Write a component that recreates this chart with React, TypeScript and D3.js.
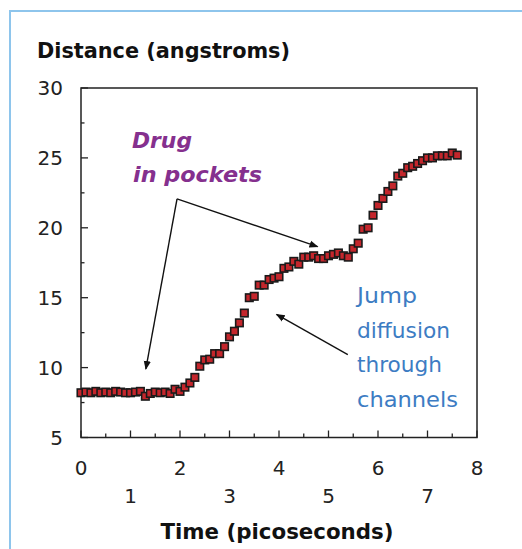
import React from "react";
import * as d3 from "d3";

const times = [
  0.0, 0.1, 0.2, 0.3, 0.4, 0.5, 0.6, 0.7, 0.8, 0.9,
  1.0, 1.1, 1.2, 1.3, 1.4, 1.5, 1.6, 1.7, 1.8, 1.9,
  2.0, 2.1, 2.2, 2.3, 2.4, 2.5, 2.6, 2.7, 2.8, 2.9,
  3.0, 3.1, 3.2, 3.3, 3.4, 3.5, 3.6, 3.7, 3.8, 3.9,
  4.0, 4.1, 4.2, 4.3, 4.4, 4.5, 4.6, 4.7, 4.8, 4.9,
  5.0, 5.1, 5.2, 5.3, 5.4, 5.5, 5.6, 5.7, 5.8, 5.9,
  6.0, 6.1, 6.2, 6.3, 6.4, 6.5, 6.6, 6.7, 6.8, 6.9,
  7.0, 7.1, 7.2, 7.3, 7.4, 7.5, 7.6,
];
const distances = [
  8.2, 8.25, 8.2, 8.3, 8.2, 8.25, 8.2, 8.3, 8.25, 8.2,
  8.2, 8.25, 8.3, 7.95, 8.15, 8.25, 8.2, 8.25, 8.15, 8.45,
  8.3, 8.6, 8.9, 9.3, 10.1, 10.55, 10.6, 11.0, 11.0, 11.5,
  12.2, 12.6, 13.2, 13.9, 15.0, 15.1, 15.9, 15.9, 16.3, 16.4,
  16.5, 17.1, 17.2, 17.6, 17.4, 17.9, 17.9, 18.0, 17.8, 17.8,
  18.0, 18.1, 18.2, 18.0, 17.9, 18.5, 18.9, 19.9, 20.0, 20.9,
  21.6, 22.1, 22.6, 23.0, 23.7, 23.9, 24.3, 24.4, 24.6, 24.8,
  25.0, 25.0, 25.15, 25.15, 25.15, 25.35, 25.2,
];

const xTickLabels = ["0", "1", "2", "3", "4", "5", "6", "7", "8"];
const yTickLabels = ["5", "10", "15", "20", "25", "30"];
const yTitle = "Distance (angstroms)";
const xTitle = "Time (picoseconds)";
const drugLines = ["Drug", "in pockets"];
const jumpLines = ["Jump", "diffusion", "through", "channels"];
const jumpWidths = [60, 93, 85, 101];

export default function App() {
  const W = 522, H = 549;
  const x = d3.scaleLinear().domain([0, 8]).range([81, 477]);
  const y = d3.scaleLinear().domain([5, 30]).range([437.5, 88]);
  const font = "'DejaVu Sans', sans-serif";
  const xMinor = d3.range(0, 8.01, 0.5);
  const yMinor = d3.range(5, 30.01, 2.5);
  const ms = 7.5;

  // annotation anchor points (data units)
  const drugFrom = [1.94, 22.07];
  const drugTo1 = [1.31, 9.9];
  const drugTo2 = [4.78, 18.65];
  const jumpFrom = [5.39, 10.93];
  const jumpTo = [3.95, 13.8];

  return (
    <svg width={W} height={H} style={{ position: "absolute", left: 0, top: 0, background: "#fff" }}>
      <defs>
        <marker id="ah" viewBox="0 0 10 10" refX="9" refY="5" markerWidth="9" markerHeight="9" markerUnits="userSpaceOnUse" orient="auto">
          <path d="M0,1 L10,5 L0,9 Z" fill="#111" />
        </marker>
      </defs>
      <rect x={10} y={11} width={700} height={700} fill="none" stroke="#8ec5ec" strokeWidth={2} />

      <text x={37} y={58} fontFamily={font} fontWeight="bold" fontSize={21} fill="#111" textLength={253} lengthAdjust="spacingAndGlyphs">{yTitle}</text>
      <text x={277} y={539} fontFamily={font} fontWeight="bold" fontSize={21} fill="#111" textAnchor="middle" textLength={233} lengthAdjust="spacingAndGlyphs">{xTitle}</text>

      {/* frame */}
      <rect x={x(0)} y={y(30)} width={x(8) - x(0)} height={y(5) - y(30)} fill="none" stroke="#222" strokeWidth={1.5} />

      {/* x ticks */}
      {xMinor.map((v) => {
        const major = Math.abs(v - Math.round(v)) < 1e-6;
        return <line key={"xm" + v} x1={x(v)} x2={x(v)} y1={y(5)} y2={y(5) - (major ? 7 : 4)} stroke="#222" strokeWidth={1.3} />;
      })}
      {/* y ticks */}
      {yMinor.map((v) => {
        const major = Math.abs(v / 5 - Math.round(v / 5)) < 1e-6;
        return <line key={"ym" + v} x1={x(0)} x2={x(0) + (major ? 7 : 3.5)} y1={y(v)} y2={y(v)} stroke="#222" strokeWidth={1.3} />;
      })}

      {xTickLabels.map((lab, i) => (
        <text key={"xl" + lab} x={x(+lab)} y={475} dy={i % 2 === 0 ? 0 : 28} textAnchor="middle" fontFamily={font} fontSize={20} fill="#222">{lab}</text>
      ))}
      {yTickLabels.map((lab) => (
        <text key={"yl" + lab} x={63} y={y(+lab)} dy="0.36em" textAnchor="end" fontFamily={font} fontSize={20} fill="#222">{lab}</text>
      ))}

      {/* arrows */}
      <line x1={x(drugFrom[0])} y1={y(drugFrom[1])} x2={x(drugTo1[0])} y2={y(drugTo1[1])} stroke="#111" strokeWidth={1.4} markerEnd="url(#ah)" />
      <line x1={x(drugFrom[0])} y1={y(drugFrom[1])} x2={x(drugTo2[0])} y2={y(drugTo2[1])} stroke="#111" strokeWidth={1.4} markerEnd="url(#ah)" />
      <line x1={x(jumpFrom[0])} y1={y(jumpFrom[1])} x2={x(jumpTo[0])} y2={y(jumpTo[1])} stroke="#111" strokeWidth={1.4} markerEnd="url(#ah)" />

      {/* data */}
      {times.map((t, i) => (
        <rect key={"p" + i} x={x(t) - ms / 2} y={y(distances[i]) - ms / 2} width={ms} height={ms} fill="#c4262c" stroke="#1a1a1a" strokeWidth={1.6} />
      ))}

      {/* annotations */}
      <text x={132} y={148} fontFamily={font} fontWeight="bold" fontStyle="italic" fontSize={22} fill="#85308e" textLength={60} lengthAdjust="spacingAndGlyphs">{drugLines[0]}</text>
      <text x={133} y={182} fontFamily={font} fontWeight="bold" fontStyle="italic" fontSize={22} fill="#85308e" textLength={129} lengthAdjust="spacingAndGlyphs">{drugLines[1]}</text>
      {jumpLines.map((l, i) => (
        <text key={l} x={357} y={303 + i * 34.5} fontFamily={font} fontSize={21} fill="#3d7cc3" textLength={jumpWidths[i]} lengthAdjust="spacingAndGlyphs">{l}</text>
      ))}
    </svg>
  );
}
